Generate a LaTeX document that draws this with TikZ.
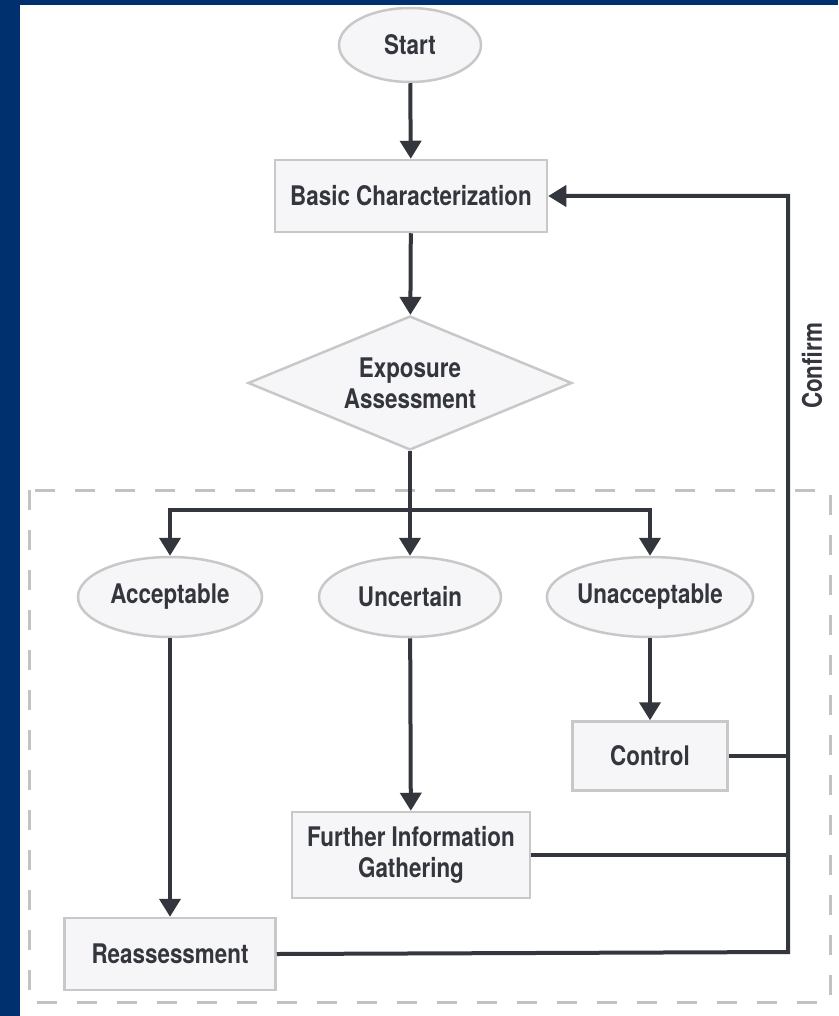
\documentclass[tikz,border=0pt]{standalone}
\usepackage{fontspec}
\setmainfont{TeX Gyre Heros}[FakeStretch=0.83]
\usetikzlibrary{shapes.geometric,arrows.meta}
\definecolor{navy}{HTML}{00306E}
\definecolor{nodefill}{HTML}{F6F6F8}
\definecolor{nodeborder}{HTML}{C8C8C8}
\definecolor{ink}{HTML}{33363D}
\definecolor{dashgray}{HTML}{C2C2C2}
\tikzset{
  lbl/.style={font=\fontsize{27}{31}\selectfont\bfseries, text=ink, align=center},
  oval/.style={lbl, ellipse, draw=nodeborder, line width=2.5pt, fill=nodefill, inner sep=0pt},
  box/.style={lbl, rectangle, draw=nodeborder, line width=2.5pt, fill=nodefill, inner sep=0pt},
  decide/.style={lbl, diamond, draw=nodeborder, line width=2.5pt, fill=nodefill, inner sep=0pt, aspect=2.4},
  conn/.style={draw=ink, line width=4pt},
  arr/.style={conn, -{Triangle[width=21pt,length=18pt]}}
}
\begin{document}
\begin{tikzpicture}[x=1pt,y=-1pt]
\fill[navy] (0,0) rectangle (838,1016);
\fill[white] (20,5) rectangle (838,1016);
\useasboundingbox (0,0) rectangle (838,1016);

\draw[dashgray, line width=3pt, dash pattern=on 20pt off 20pt] (29,490) rectangle (830,1002);

\node[oval, minimum width=142pt, minimum height=74pt] (start) at (410,45) {Start};
\node[box, minimum width=272pt, minimum height=72pt] (basic) at (411,196) {Basic Characterization};
\node[decide, minimum width=324pt, minimum height=134pt] (exp) at (410,383) {Exposure\\Assessment};
\node[oval, minimum width=184pt, minimum height=80pt] (acc) at (170,597) {Acceptable};
\node[oval, minimum width=182pt, minimum height=80pt] (unc) at (410,597) {Uncertain};
\node[oval, minimum width=186pt, minimum height=80pt] (unacc) at (650,597) {Unacceptable};
\node[box, minimum width=155pt, minimum height=69pt] (ctrl) at (650,756) {Control};
\node[box, minimum width=238pt, minimum height=86pt] (further) at (411,855) {Further Information\\Gathering};
\node[box, minimum width=211pt, minimum height=72pt] (reass) at (170,954) {Reassessment};
\node[lbl, rotate=90] (confirm) at (812,366) {Confirm};

\coordinate (split) at (410,510);
\coordinate (vtop) at (788,196);
\coordinate (vbot) at (788,952);

\draw[arr] (start) -- (basic);
\draw[arr] (basic) -- (exp);
\draw[arr] (exp.south) -- (unc.north);
\draw[arr] (split) -| (acc.north);
\draw[arr] (split) -| (unacc.north);
\draw[arr] (acc) -- (reass);
\draw[arr] (unc) -- (further);
\draw[arr] (unacc) -- (ctrl);
\draw[conn] (ctrl.east) -- (ctrl.east -| vtop);
\draw[conn] (further.east) -- (further.east -| vtop);
\draw[arr, line join=miter] (reass.east) -- (vbot) -- (vtop) -- (basic.east);
\end{tikzpicture}
\end{document}
